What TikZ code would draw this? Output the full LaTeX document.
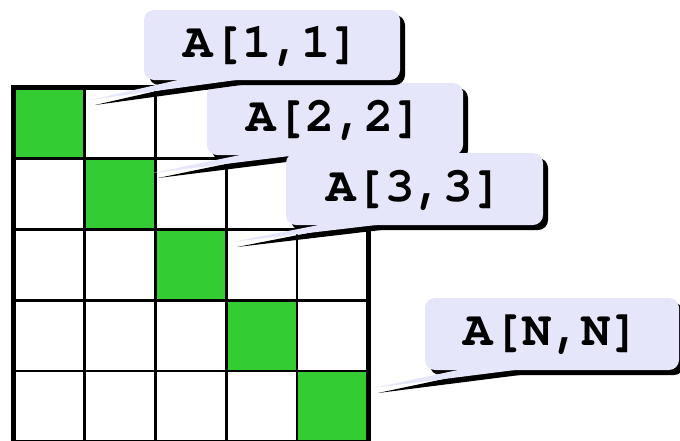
\documentclass[tikz,border=0pt]{standalone}
\usepackage{fontspec}
\newfontfamily\courierbold{texgyrecursor-bold.otf}
\definecolor{cellgreen}{HTML}{33CC33}
\definecolor{calloutfill}{HTML}{E6E6FA}
\tikzset{
  thinline/.style={line width=2.6pt, black},
  thickline/.style={line width=5pt, black},
  shadowfill/.style={fill=black},
  boxfill/.style={fill=calloutfill},
  labeltext/.style={font=\courierbold\fontsize{49}{49}\selectfont, inner sep=0pt, anchor=center}
}
% #1 name, #2 x1, #3 y1, #4 x2, #5 y2, #6 tip x, #7 tip y, #8 text
\newcommand\mycallout[8]{%
  \coordinate (#1tip) at (#6,#7);
  \begin{scope}[shift={(5,5)}]
    \fill[shadowfill, rounded corners=10pt] (#2,#3) rectangle (#4,#5);
    \fill[shadowfill] (#6,#7) -- ({#2+(#4-#2)*2/12},#5-2) -- ({#2+(#4-#2)*5/12},#5-2) -- cycle;
  \end{scope}
  \fill[boxfill, rounded corners=10pt] (#2,#3) rectangle (#4,#5);
  \fill[boxfill] (#1tip) -- ({#2+(#4-#2)*2/12},#5-2) -- ({#2+(#4-#2)*5/12},#5-2) -- cycle;
  \node[labeltext] (#1) at ({(#2+#4)/2},{(#3+#5)/2+1}) {#8};
}
\begin{document}
\begin{tikzpicture}[x=1pt,y=-1pt]
\useasboundingbox (0,0) rectangle (680,440);
\clip (0,0) rectangle (680,440);
\def\cs{70.9}
\def\gx{13.5}
\def\gy{87.5}
% green diagonal cells
\foreach \k in {0,...,4}{
  \fill[cellgreen] ({\gx+\k*\cs},{\gy+\k*\cs}) rectangle ({\gx+(\k+1)*\cs},{\gy+(\k+1)*\cs});
}
% inner grid lines
\foreach \k in {1,...,4}{
  \draw[thinline] ({\gx+\k*\cs},\gy) -- ({\gx+\k*\cs},{\gy+5*\cs});
  \draw[thinline] (\gx,{\gy+\k*\cs}) -- ({\gx+5*\cs},{\gy+\k*\cs});
}
% outer border
\draw[thickline] (\gx,\gy) rectangle ({\gx+5*\cs},{\gy+5*\cs});
% callouts
\mycallout{aNN}{425}{298}{679}{370}{373}{388}{A[N,N]}
\mycallout{a22}{207}{83}{463}{155}{153}{173}{A[2,2]}
\mycallout{a33}{286}{153}{543}{225}{232}{242}{A[3,3]}
\mycallout{a11}{144}{10}{400}{80}{90}{100}{A[1,1]}
\end{tikzpicture}
\end{document}
